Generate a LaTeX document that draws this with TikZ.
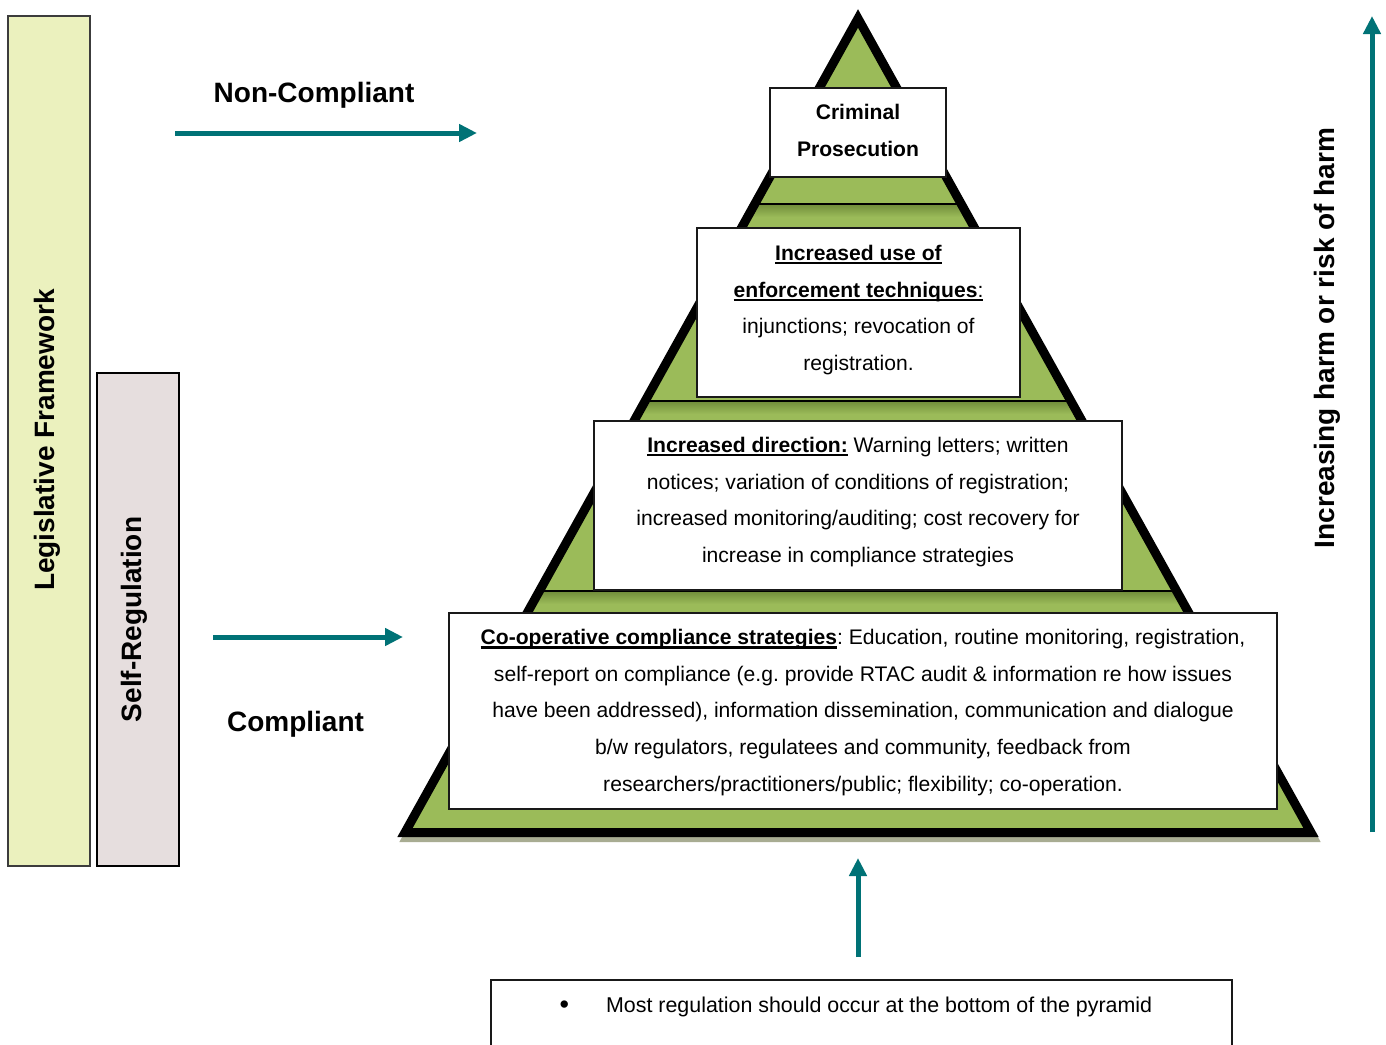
\documentclass[tikz,border=0pt]{standalone}
\usepackage{fontspec}
\setmainfont{Liberation Sans}
\usetikzlibrary{arrows.meta}
\definecolor{pyrgreen}{RGB}{155,187,89}
\definecolor{pyrdark}{RGB}{112,140,58}
\definecolor{pyrshadow}{RGB}{168,172,146}
\definecolor{arrteal}{RGB}{0,114,118}
\definecolor{legfill}{RGB}{235,241,190}
\definecolor{selffill}{RGB}{230,222,222}
\definecolor{boxline}{RGB}{25,25,25}
\newsavebox\ulbx
\newcommand\myul[1]{\sbox\ulbx{#1}\rlap{\rule[-4.2pt]{\wd\ulbx}{2.2pt}}\usebox\ulbx}
\frenchspacing
\begin{document}
\begin{tikzpicture}[x=1pt,y=-1pt,
  tarrow/.style={draw=arrteal, line width=5pt, -{Triangle[length=18pt,width=17pt]}},
  wbox/.style={draw=boxline, fill=white, line width=1.8pt, inner sep=0pt, outer sep=0pt},
  body/.style={font=\fontsize{21.1}{36.8}\selectfont\frenchspacing, align=center, inner sep=0pt},
  big/.style={font=\fontsize{28}{32}\selectfont\bfseries, inner sep=0pt},
  sidebar/.style={line width=1.6pt, inner sep=0pt, outer sep=0pt}]
\useasboundingbox (0,0) rectangle (1386,1044);
\fill[white] (0,0) rectangle (1386,1044);

% left bars
\node[sidebar, draw={rgb,255:red,60;green,60;blue,60}, fill=legfill, minimum width=82, minimum height=850] (leg) at (49,441) {};
\node[sidebar, draw=black, fill=selffill, line width=2pt, minimum width=82, minimum height=493] (self) at (138,619.5) {};
\node[big, rotate=90, anchor=base] (legtext) at (54,440) {Legislative Framework};
\node[big, rotate=90, anchor=base] (selftext) at (141,619.5) {Self-Regulation};

% pyramid
\coordinate (apex) at (858,18.5);
\coordinate (pl) at (405,832.5);
\coordinate (pr) at (1311,832.5);
\draw[pyrshadow, fill=pyrshadow, line width=9pt, line join=miter]
  ([shift={(2,5)}]apex) -- ([shift={(2,5)}]pl) -- ([shift={(2,5)}]pr) -- cycle;
\fill[pyrgreen] (apex) -- (pl) -- (pr) -- cycle;
\begin{scope}
  \clip (apex) -- (pl) -- (pr) -- cycle;
  \foreach \yy in {204,401,591} {
    \shade[top color=pyrdark, bottom color=pyrgreen] (380,\yy) rectangle (1340,\yy+13);
    \draw[line width=2.5pt, black] (380,\yy) -- (1340,\yy);
  }
\end{scope}
\draw[black, line width=9pt, line join=miter] (apex) -- (pl) -- (pr) -- cycle;

% boxes
\node[wbox, minimum width=176, minimum height=89] (crim) at (858,132.5) {};
\node[wbox, minimum width=323, minimum height=169] (enf) at (858.5,312.5) {};
\node[wbox, minimum width=528, minimum height=169] (dir) at (858,505.5) {};
\node[wbox, minimum width=828, minimum height=196] (coop) at (863,711) {};

\node[body] (crimtext) at (858,130.5) {\textbf{Criminal}\\\textbf{Prosecution}};
\node[body] (enftext) at (858.5,310) {\myul{\textbf{Increased use of}}\\\myul{\textbf{enforcement techniques}:}\\injunctions; revocation of\\registration.};
\node[body] (dirtext) at (858,502) {\myul{\textbf{Increased direction:}} Warning letters; written\\notices; variation of conditions of registration;\\increased monitoring/auditing; cost recovery for\\increase in compliance strategies};
\node[body] (cooptext) at (863,712.5) {\myul{\textbf{Co-operative compliance strategies}}: Education, routine monitoring, registration,\\self-report on compliance (e.g. provide RTAC audit \& information re how issues\\have been addressed), information dissemination, communication and dialogue\\b/w regulators, regulatees and community, feedback from\\researchers/practitioners/public; flexibility; co-operation.};

% labels
\node[big, anchor=base] (nclabel) at (314,102) {Non-Compliant};
\node[big, anchor=base] (clabel) at (295.5,731) {Compliant};
\node[big, rotate=90, anchor=base] (harm) at (1334,338) {Increasing harm or risk of harm};

% arrows
\coordinate (nc1) at (175,133);
\coordinate (nc2) at (477,133);
\coordinate (c1) at (213,637);
\coordinate (c2) at (403,637);
\coordinate (ba1) at (858,957);
\coordinate (ba2) at (858,858);
\coordinate (ra1) at (1372,832);
\coordinate (ra2) at (1372,16);
\draw[tarrow] (nc1) -- (nc2);
\draw[tarrow] (c1) -- (c2);
\draw[tarrow] (ba1) -- (ba2);
\draw[tarrow] (ra1) -- (ra2);

% bottom note
\node[draw=boxline, line width=1.3pt, inner sep=0pt, minimum width=741, minimum height=80] (note) at (861.5,1020) {};
\node[body, font=\fontsize{21.4}{36.8}\selectfont, anchor=base west] (notetext) at (559.5,1012.5) {{\fontsize{27}{27}\selectfont\raisebox{-1pt}{•}}\hspace{37pt}Most regulation should occur at the bottom of the pyramid};
\end{tikzpicture}
\end{document}
